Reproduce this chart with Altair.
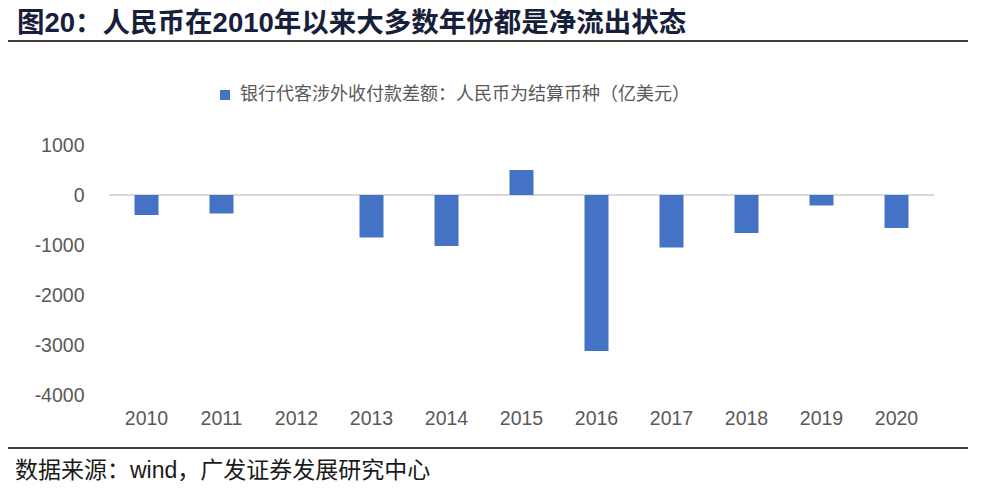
import altair as alt
import pandas as pd

years = ["2010", "2011", "2012", "2013", "2014", "2015", "2016", "2017", "2018", "2019", "2020"]
values = [-400, -370, 0, -850, -1020, 500, -3120, -1050, -760, -210, -660]
series_name = "银行代客涉外收付款差额：人民币为结算币种（亿美元）"
y_ticks = [1000, 0, -1000, -2000, -3000, -4000]

title_text = "图20：人民币在2010年以来大多数年份都是净流出状态"
source_text = "数据来源：wind，广发证券发展研究中心"

df = pd.DataFrame({"year": years, "value": values, "series": [series_name] * len(years)})

FONT = "Liberation Sans, Arial, Noto Sans CJK SC"
CJK = "Noto Sans CJK SC"
W, H = 825, 250

bars = alt.Chart(df).mark_bar(size=24).encode(
    x=alt.X("year:N", sort=years,
            scale=alt.Scale(paddingInner=0.68, paddingOuter=0.34),
            axis=alt.Axis(title=None, labelAngle=0, domain=False, ticks=False,
                          labelFontSize=19.5, labelFont=FONT, labelColor="#595959",
                          labelPadding=14)),
    y=alt.Y("value:Q", scale=alt.Scale(domain=[-4000, 1000], nice=False),
            axis=alt.Axis(title=None, values=y_ticks, domain=False, ticks=False, grid=False,
                          labelFontSize=19.5, labelFont=FONT, labelColor="#595959",
                          labelPadding=25, labelExpr="'' + datum.value")),
    color=alt.Color("series:N", scale=alt.Scale(range=["#4472C4"]),
                    legend=alt.Legend(title=None, orient="none", legendX=107, legendY=-59,
                                      symbolType="square", symbolSize=100, symbolStrokeWidth=0,
                                      labelFontSize=18, labelFont=CJK, labelColor="#595959",
                                      labelOffset=6, labelLimit=0)),
)

zero = alt.Chart(df).mark_rule(color="#D9D9D9", strokeWidth=2).encode(y=alt.datum(0))

top_line = alt.Chart(df.head(1)).mark_rule(color="black", strokeWidth=1.5).encode(
    x=alt.value(-108), x2=alt.value(859), y=alt.value(-104))
bottom_line = alt.Chart(df.head(1)).mark_rule(color="black", strokeWidth=1.5).encode(
    x=alt.value(-108), x2=alt.value(859), y=alt.value(303))

title = alt.Chart(pd.DataFrame({"t": [title_text]})).mark_text(
    align="left", baseline="middle", fontSize=27.5, fontWeight="bold", font=FONT, color="#17203a"
).encode(x=alt.value(-92), y=alt.value(-121), text="t:N")

source = alt.Chart(pd.DataFrame({"t": [source_text]})).mark_text(
    align="left", baseline="middle", fontSize=23, font=FONT, color="#1a1a1a"
).encode(x=alt.value(-94), y=alt.value(326), text="t:N")

chart = alt.layer(zero, bars, top_line, bottom_line, title, source).properties(
    width=W, height=H,
    autosize=alt.AutoSizeParams(type="none"),
    padding={"left": 101, "top": 137, "right": 51, "bottom": 93},
).configure_view(stroke=None)

chart.save("out.html", embed_options={"renderer": "svg", "actions": False})
